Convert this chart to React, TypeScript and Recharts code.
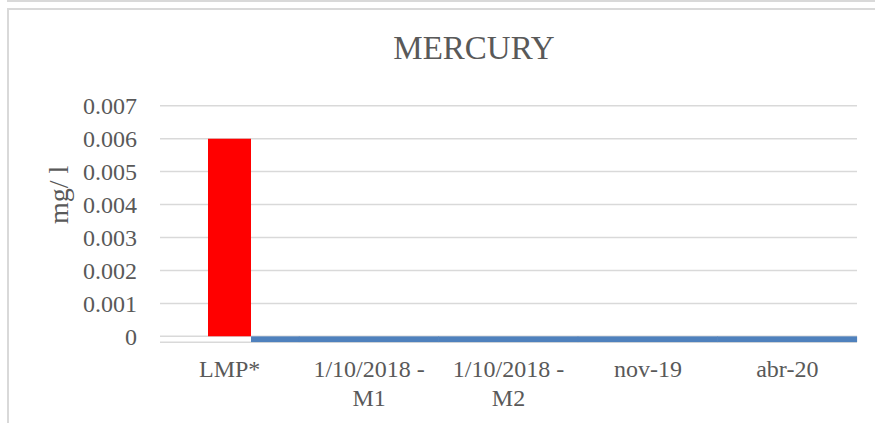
import React from "react";
import { ComposedChart, Bar, XAxis, YAxis, CartesianGrid } from "recharts";

const categories = ["LMP*", "1/10/2018 - M1", "1/10/2018 - M2", "nov-19", "abr-20"];
const lmpValues = [0.006, null, null, null, null];
const sampleValues = [-0.00018, -0.00018, -0.00018, -0.00018, -0.00018];
const yTicks = [0, 0.001, 0.002, 0.003, 0.004, 0.005, 0.006, 0.007];
const title = "MERCURY";
const yLabel = "mg/ l";

const data = categories.map((c, i) => ({ cat: c, lmp: lmpValues[i], sample: sampleValues[i] }));

const FONT = "'Liberation Serif', 'Times New Roman', serif";
const TEXT = "#595959";
const RED_BAR = 43;

const CatTick = (props: any) => {
  const { x, y, payload } = props;
  const v: string = payload.value;
  const idx = v.indexOf("- ");
  const lines = idx >= 0 ? [v.slice(0, idx + 1), v.slice(idx + 2)] : [v];
  return (
    <g>
      {lines.map((l, i) => (
        <text key={i} x={x} y={y - 3 + i * 29} textAnchor="middle" fill={TEXT} fontSize={24} fontFamily={FONT}>
          {l}
        </text>
      ))}
    </g>
  );
};

const BlueShape = (props: any) => {
  const { x, y, width, height, index, fill } = props;
  let x0 = x - 0.5;
  let w = width + 1;
  if (index === 0) {
    x0 = x + width / 2 + RED_BAR / 2;
    w = x + width + 0.5 - x0;
  }
  const top = Math.min(y, y + height);
  const h = Math.abs(height);
  return <rect x={x0} y={top} width={w} height={h} fill={fill} />;
};

export default function App() {
  return (
    <div style={{ position: "absolute", left: 0, top: 0, width: 875, height: 423, overflow: "hidden", background: "#fff" }}>
      <div style={{ position: "absolute", left: 7, top: 0, width: 900, height: 2, background: "#d9d9d9" }} />
      <div style={{ position: "absolute", left: 7, top: 8, width: 900, height: 440, border: "2px solid #d9d9d9", boxSizing: "border-box" }} />
      <svg width={875} height={80} style={{ position: "absolute", left: 0, top: 0 }}>
        <text x={474} y={59} textAnchor="middle" fontSize={33} fontFamily={FONT} fill={TEXT}>
          {title}
        </text>
      </svg>
      <div style={{ position: "absolute", left: 0, top: 0 }}>
        <ComposedChart
          width={875}
          height={423}
          data={data}
          barCategoryGap={0}
          margin={{ top: 105.7, right: 18, left: 0, bottom: 0 }}
        >
          <CartesianGrid xAxisId="main" vertical={false} stroke="#d9d9d9" strokeWidth={1.5} />
          <XAxis
            xAxisId="main"
            dataKey="cat"
            axisLine={false}
            tickLine={false}
            height={80.7}
            interval={0}
            tick={<CatTick />}
          />
          <XAxis xAxisId="b" dataKey="cat" hide />
          <YAxis
            domain={[-0.00018, 0.007]}
            ticks={yTicks}
            allowDataOverflow
            width={160}
            axisLine={false}
            tickLine={false}
            tickMargin={17}
            tick={{ fill: TEXT, fontSize: 24, fontFamily: FONT }}
            tickFormatter={(v: number) => (v === 0 ? "0" : v.toFixed(3))}
            label={{ value: yLabel, angle: -90, position: "insideLeft", offset: 58, fill: TEXT, fontSize: 28, fontFamily: FONT }}
          />
          <Bar xAxisId="b" dataKey="sample" fill="#4f81bd" barSize={139} shape={<BlueShape />} isAnimationActive={false} />
          <Bar xAxisId="main" dataKey="lmp" fill="#ff0000" barSize={RED_BAR} isAnimationActive={false} />
        </ComposedChart>
      </div>
    </div>
  );
}
